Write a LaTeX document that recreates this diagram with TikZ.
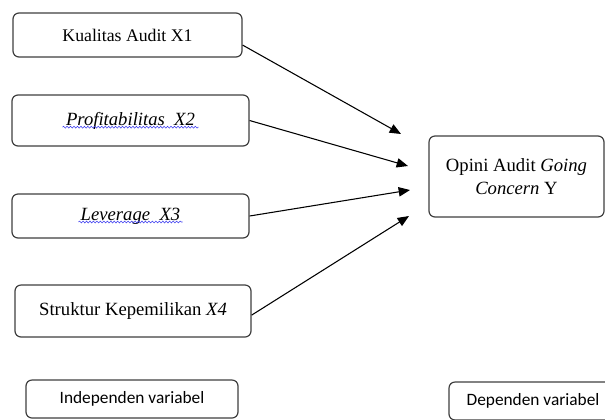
\documentclass[tikz,border=0pt]{standalone}
\usepackage{fontspec}
\setmainfont{Liberation Serif}
\newfontfamily\labelfont{Carlito}
\usepackage{tikz}
\usetikzlibrary{arrows.meta,decorations.pathmorphing}
\definecolor{BoxLine}{HTML}{3F3F3F}
\definecolor{SpellBlue}{HTML}{3B3BF0}

\begin{document}
\begin{tikzpicture}[
  x=0.75pt,y=-0.75pt,
  font=\fontsize{14}{17}\selectfont,
  varbox/.style={draw=BoxLine,fill=white,rounded corners=4.5pt,
    align=center,line width=.9pt,inner sep=2pt},
  tagbox/.style={draw=BoxLine,fill=white,rounded corners=4.5pt,
    minimum height=28.5pt,font=\labelfont\fontsize{13}{15}\selectfont,line width=.9pt},
  flow/.style={-{Triangle[length=8.5pt,width=7pt]},draw=black,line width=.8pt},
  squiggle/.style={draw=SpellBlue,line width=.4pt,
    decorate,decoration={snake,amplitude=.7pt,segment length=2.6pt}}
]
  \useasboundingbox (0,0) rectangle (605,419);
  \clip (0,0) rectangle (605,419);

  \node[varbox,minimum width=171.75pt,minimum height=33pt,font=\fontsize{13.3}{16}\selectfont] (kualitas) at (127.5,35) {Kualitas Audit X1};
  \node[varbox,minimum width=177.75pt,minimum height=38.25pt] (profit) at (130.5,120.5) {\textit{Profitabilitas~ X2}};
  \node[varbox,minimum width=177.75pt,minimum height=33pt] (leverage) at (130.5,216) {\textit{Leverage~ X3}};
  \node[varbox,minimum width=177pt,minimum height=39pt] (struktur) at (133,311) {Struktur Kepemilikan \textit{X4}};
  \node[varbox,minimum width=131.25pt,minimum height=60.75pt] (opini) at (516.5,176.5) {Opini Audit \textit{Going}\\\textit{Concern} Y};

  \node[tagbox,minimum width=159pt] (indep) at (132,399) {Independen variabel};
  \node[tagbox,minimum width=126pt] (dep) at (533,401) {Dependen variabel};

  % spelling marks under the italic names
  \draw[squiggle] ([xshift=-51pt,yshift=-5pt]profit.center) -- ++(102pt,0);
  \draw[squiggle] ([xshift=-39pt,yshift=-4.5pt]leverage.center) -- ++(78pt,0);

  \coordinate (t1) at (401,134);
  \coordinate (t2) at (408,166);
  \coordinate (t3) at (410,190);
  \coordinate (t4) at (409,216);

  \draw[flow] (kualitas.-5) -- (t1);
  \draw[flow] (profit.east) -- (t2);
  \draw[flow] (leverage.east) -- (t3);
  \draw[flow] (struktur.-2) -- (t4);
\end{tikzpicture}
\end{document}
